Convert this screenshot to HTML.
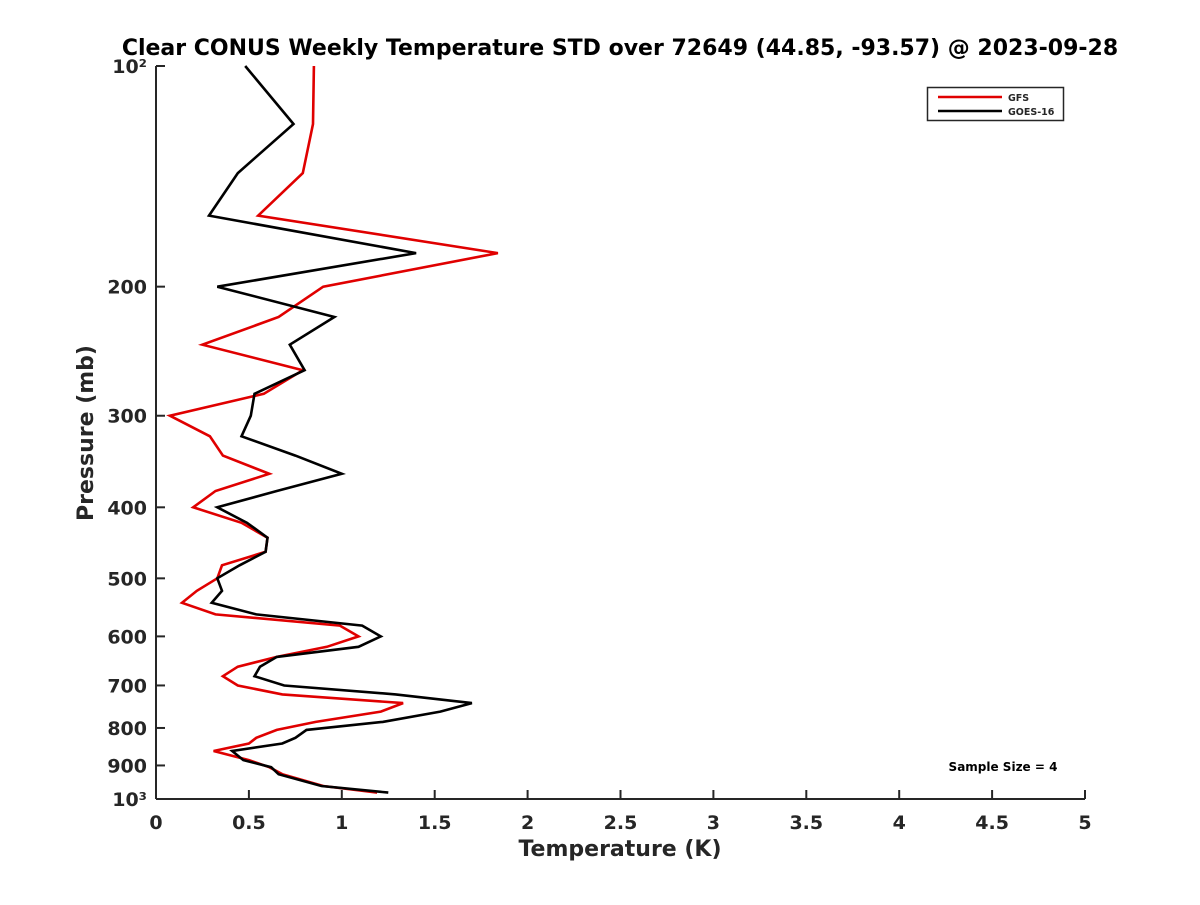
<!DOCTYPE html>
<html><head><meta charset="utf-8"><style>
body{margin:0;background:#fff;font-family:"Liberation Sans","DejaVu Sans",sans-serif}
svg text{font-family:"DejaVu Sans","Liberation Sans",sans-serif;font-weight:bold;fill:#262626}
</style></head><body>
<svg id="chart" width="1200" height="900" xmlns="http://www.w3.org/2000/svg">
<text x="620" y="55" text-anchor="middle" font-size="22" style="fill:#000">Clear CONUS Weekly Temperature STD over 72649 (44.85, -93.57) @ 2023-09-28</text>
<g id="axes"></g>
<g id="series"></g>
<g>
<rect x="927.5" y="87.5" width="136" height="33" fill="#fff" stroke="#262626" stroke-width="1.5"/>
<line x1="938" y1="97" x2="1002" y2="97" stroke="#e00000" stroke-width="2.5"/>
<text x="1008" y="101" font-size="9.5">GFS</text>
<line x1="938" y1="111" x2="1002" y2="111" stroke="#000" stroke-width="2.5"/>
<text x="1008" y="115" font-size="9.5">GOES-16</text>
</g>
<text x="1003" y="771" text-anchor="middle" font-size="12" style="fill:#000">Sample Size = 4</text>
<text x="620" y="856" text-anchor="middle" font-size="22">Temperature (K)</text>
<text transform="translate(93,433) rotate(-90)" text-anchor="middle" font-size="22">Pressure (mb)</text>
</svg>
<script>
const pressures=[100,120,140,160,180,200,220,240,260,280,300,320,340,360,380,400,420,440,460,480,500,520,540,560,580,600,620,640,660,680,700,720,740,760,785,805,825,840,860,885,905,925,960,980];
const gfsValues=[0.85,0.845,0.79,0.55,1.84,0.90,0.66,0.25,0.79,0.58,0.075,0.29,0.36,0.61,0.32,0.20,0.46,0.60,0.59,0.355,0.33,0.22,0.14,0.32,0.99,1.09,0.92,0.65,0.44,0.36,0.44,0.68,1.33,1.21,0.86,0.65,0.54,0.50,0.31,0.50,0.61,0.68,0.90,1.19];
const goesValues=[0.48,0.74,0.44,0.285,1.40,0.33,0.96,0.72,0.80,0.53,0.51,0.46,0.75,1.00,0.65,0.33,0.49,0.60,0.59,0.45,0.33,0.355,0.30,0.54,1.11,1.21,1.09,0.65,0.56,0.53,0.69,1.29,1.70,1.53,1.22,0.81,0.75,0.68,0.41,0.47,0.62,0.66,0.89,1.25];
const xTicks=[0,0.5,1,1.5,2,2.5,3,3.5,4,4.5,5];
const xTickLabels=["0","0.5","1","1.5","2","2.5","3","3.5","4","4.5","5"];
const yTicks=[100,200,300,400,500,600,700,800,900,1000];
const yTickLabels=["10²","200","300","400","500","600","700","800","900","10³"];
const X0=156,X1=1085,Y0=66,Y1=799;
function xs(t){return X0+(t-0)/(5-0)*(X1-X0);}
function ys(p){return Y0+(Math.log10(p)-2)*(Y1-Y0);}
const NS="http://www.w3.org/2000/svg";
const axes=document.getElementById('axes');
function mk(tag,attrs,parent){const e=document.createElementNS(NS,tag);for(const k in attrs)e.setAttribute(k,attrs[k]);parent.appendChild(e);return e;}
let yl=mk('line',{x1:X0,y1:Y0,x2:X0,y2:Y1,stroke:'#262626','stroke-width':2},axes);


let xl=mk('line',{x1:X0,y1:Y1,x2:X1,y2:Y1,stroke:'#262626','stroke-width':2},axes);


xTicks.forEach((t,i)=>{
 const x=xs(t);
 mk('line',{x1:x,y1:Y1,x2:x,y2:Y1-9,stroke:'#262626','stroke-width':2},axes);
 const tx=mk('text',{x:x,y:Y1+30,'text-anchor':'middle','font-size':19},axes);
 tx.textContent=xTickLabels[i];
 
 
});
yTicks.forEach((p,i)=>{
 const y=ys(p);
 mk('line',{x1:X0,y1:y,x2:X0+9,y2:y,stroke:'#262626','stroke-width':2},axes);
 const tx=mk('text',{x:X0-9,y:y+7,'text-anchor':'end','font-size':19},axes);
 tx.textContent=yTickLabels[i];
 
 
});
const series=document.getElementById('series');
function line(vals,color,name){
 const d=vals.map((v,i)=>(i?'L':'M')+xs(v).toFixed(1)+','+ys(pressures[i]).toFixed(1)).join('');
 const p=mk('path',{d:d,fill:'none',stroke:color,'stroke-width':2.6,'stroke-linejoin':'miter'},series);
 
 
}
line(gfsValues,'#e00000','gfs-line');
line(goesValues,'#000000','goes16-line');
</script>
</body></html>
